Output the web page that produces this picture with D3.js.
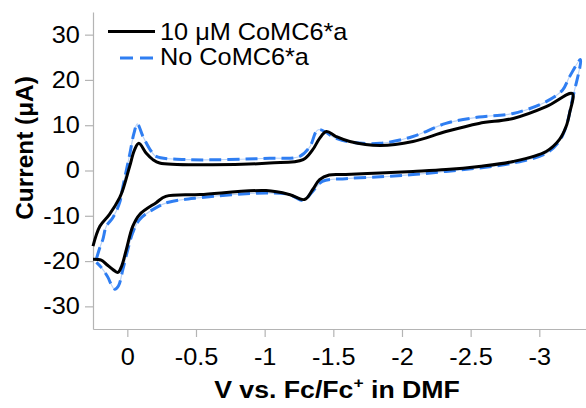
<!DOCTYPE html>
<html>
<head>
<meta charset="utf-8">
<script src="https://cdn.jsdelivr.net/npm/d3@7"></script>
<style>
    body { margin: 0; background: #fff; }
    text { font-family: "Liberation Sans", Arial, sans-serif; }
</style>
</head>
<body>
<div id="chart"></div>
<script>
// series labels
const seriesNames = ["10 \u03bcM CoMC6*a", "No CoMC6*a"];

// 10 uM CoMC6*a : potential (V) and current (uA)
const cobaltV = [0.25, 0.20, 0.13, 0.056, 0.032, -0.017, -0.053, -0.084, -0.138, -0.186, -0.235, -0.6, -1.036, -1.28, -1.35, -1.40, -1.45, -1.52, -1.62, -1.84, -2.08, -2.32, -2.56, -2.81, -3.05, -3.24,
    -3.22, -3.195, -3.146, -3.05, -2.81, -2.56, -2.32, -2.08, -1.84, -1.59, -1.47, -1.40, -1.35, -1.29, -1.18, -1.01, -0.53, -0.28, -0.21, -0.09, -0.04, 0.007, 0.04, 0.068, 0.10, 0.153, 0.19, 0.25];
const cobaltI = [-16.7, -12.3, -9.7, -6.0, -4.2, 0.9, 4.6, 6.0, 3.8, 2.4, 1.65, 1.27, 1.65, 2.4, 4.6, 7.1, 8.6, 7.5, 6.4, 5.5, 6.4, 8.6, 10.4, 11.5, 14.1, 17.0,
    12.6, 9.7, 6.8, 4.2, 2.0, 0.9, 0.2, -0.2, -0.55, -0.9, -1.0, -2.0, -4.2, -6.4, -5.3, -4.44, -5.3, -5.7, -7.1, -9.7, -12.3, -17.4, -21.0, -22.5, -22.0, -20.7, -19.8, -19.6];

// No CoMC6*a
const blankV = [0.225, 0.20, 0.178, 0.153, 0.105, 0.056, 0.032, -0.017, -0.048, -0.073, -0.114, -0.175, -0.21, -0.45, -1.036, -1.255, -1.33, -1.39, -1.52, -1.62, -1.84, -2.08, -2.32, -2.56, -2.81, -3.05, -3.17, -3.22, -3.30,
    -3.24, -3.195, -3.146, -3.05, -2.81, -2.56, -2.32, -2.08, -1.84, -1.59, -1.42, -1.35, -1.28, -1.18, -1.01, -0.53, -0.30, -0.21, -0.09, -0.04, -0.004, 0.032, 0.065, 0.092, 0.12, 0.141, 0.19, 0.225];
const blankI = [-19.5, -17.0, -15.2, -12.3, -10.4, -7.1, -3.5, 3.5, 8.2, 10.3, 7.5, 4.2, 3.1, 2.4, 2.7, 3.1, 5.3, 9.0, 7.1, 6.3, 6.0, 7.5, 10.4, 11.8, 12.6, 15.2, 17.8, 20.7, 24.5,
    15.6, 9.7, 6.5, 3.8, 1.65, 0.55, -0.2, -0.9, -1.4, -1.8, -2.4, -4.6, -6.6, -5.3, -4.95, -6.0, -7.0, -8.2, -10.8, -13.7, -17.4, -21.8, -25.5, -26.2, -25.0, -23.6, -21.4, -20.3];

// axis ticks
const xTicks = [0, -0.5, -1, -1.5, -2, -2.5, -3];
const yTicks = [-30, -20, -10, 0, 10, 20, 30];

const width = 586;
const height = 408;
const blue = "#2f7ef2";
const stretch = "scale(1.1, 1)"; // the original figure's text is a bit wide

const svg = d3.select("#chart")
    .append("svg")
    .attr("width", width)
    .attr("height", height);

// Scales (potential axis runs from positive to negative)
const x = d3.scaleLinear().domain([0.25, -3.34]).range([93, 586]);
const y = d3.scaleLinear().domain([-35, 35]).range([329, 12]);

// Axes - plain hyphen for negatives, like the original
const xAxis = svg.append("g")
    .attr("transform", `translate(0, ${y(-35)})`)
    .call(d3.axisBottom(x).tickValues(xTicks).tickSize(8).tickPadding(6).tickSizeOuter(0)
        .tickFormat(d => String(d)));
const yAxis = svg.append("g")
    .attr("transform", `translate(${x(0.25)}, 0)`)
    .call(d3.axisLeft(y).tickValues(yTicks).tickSize(8).tickPadding(4).tickSizeOuter(0)
        .tickFormat(d => String(d)));

[xAxis, yAxis].forEach(g => {
    g.select(".domain").attr("stroke", "#b4b4b4").attr("stroke-width", 1.2);
    g.selectAll(".tick line").attr("stroke", "#b4b4b4").attr("stroke-width", 1.2);
    g.selectAll(".tick text")
        .attr("fill", "#000")
        .attr("transform", stretch)
        .style("font-family", "'Liberation Sans', Arial, sans-serif")
        .style("font-size", "23px");
});
xAxis.selectAll(".tick text").attr("dy", "0.95em");

// Curves
const line = d3.line()
    .x(d => x(d[0]))
    .y(d => y(d[1]))
    .curve(d3.curveCatmullRom.alpha(0.5));

const blankData = blankV.map((v, i) => [v, blankI[i]]);
const cobaltData = cobaltV.map((v, i) => [v, cobaltI[i]]);

svg.append("path")
    .attr("d", line(blankData))
    .attr("fill", "none")
    .attr("stroke", "#b9d2f7")
    .attr("stroke-width", 1.2);

svg.append("path")
    .attr("d", line(blankData))
    .attr("fill", "none")
    .attr("stroke", blue)
    .attr("stroke-width", 3)
    .attr("stroke-dasharray", "12,6");

svg.append("path")
    .attr("d", line(cobaltData))
    .attr("fill", "none")
    .attr("stroke", "#000")
    .attr("stroke-width", 3);

// Legend
const legend = svg.append("g");
legend.append("line")
    .attr("x1", 108).attr("x2", 155).attr("y1", 31.5).attr("y2", 31.5)
    .attr("stroke", "#000").attr("stroke-width", 3);
legend.append("line")
    .attr("x1", 120).attr("x2", 155).attr("y1", 58).attr("y2", 58)
    .attr("stroke", blue).attr("stroke-width", 3).attr("stroke-dasharray", "13,7");
legend.selectAll("text.lab")
    .data(seriesNames)
    .enter()
    .append("text")
    .attr("class", "lab")
    .attr("transform", (d, i) => `translate(160, ${40 + i * 25}) ${stretch}`)
    .style("font-size", "23px")
    .text(d => d);

// Axis titles
const xt = svg.append("text")
    .attr("transform", "translate(337, 398) scale(1.16, 1)")
    .attr("text-anchor", "middle")
    .style("font-size", "23px")
    .style("font-weight", "bold");
xt.append("tspan").text("V vs. Fc/Fc");
xt.append("tspan").attr("dy", -10).style("font-size", "15px").text("+");
xt.append("tspan").attr("dy", 10).text(" in DMF");

svg.append("text")
    .attr("transform", "translate(33, 148) rotate(-90) scale(1.06, 1)")
    .attr("text-anchor", "middle")
    .style("font-size", "23px")
    .style("font-weight", "bold")
    .text("Current (\u03bcA)");
</script>
</body>
</html>
